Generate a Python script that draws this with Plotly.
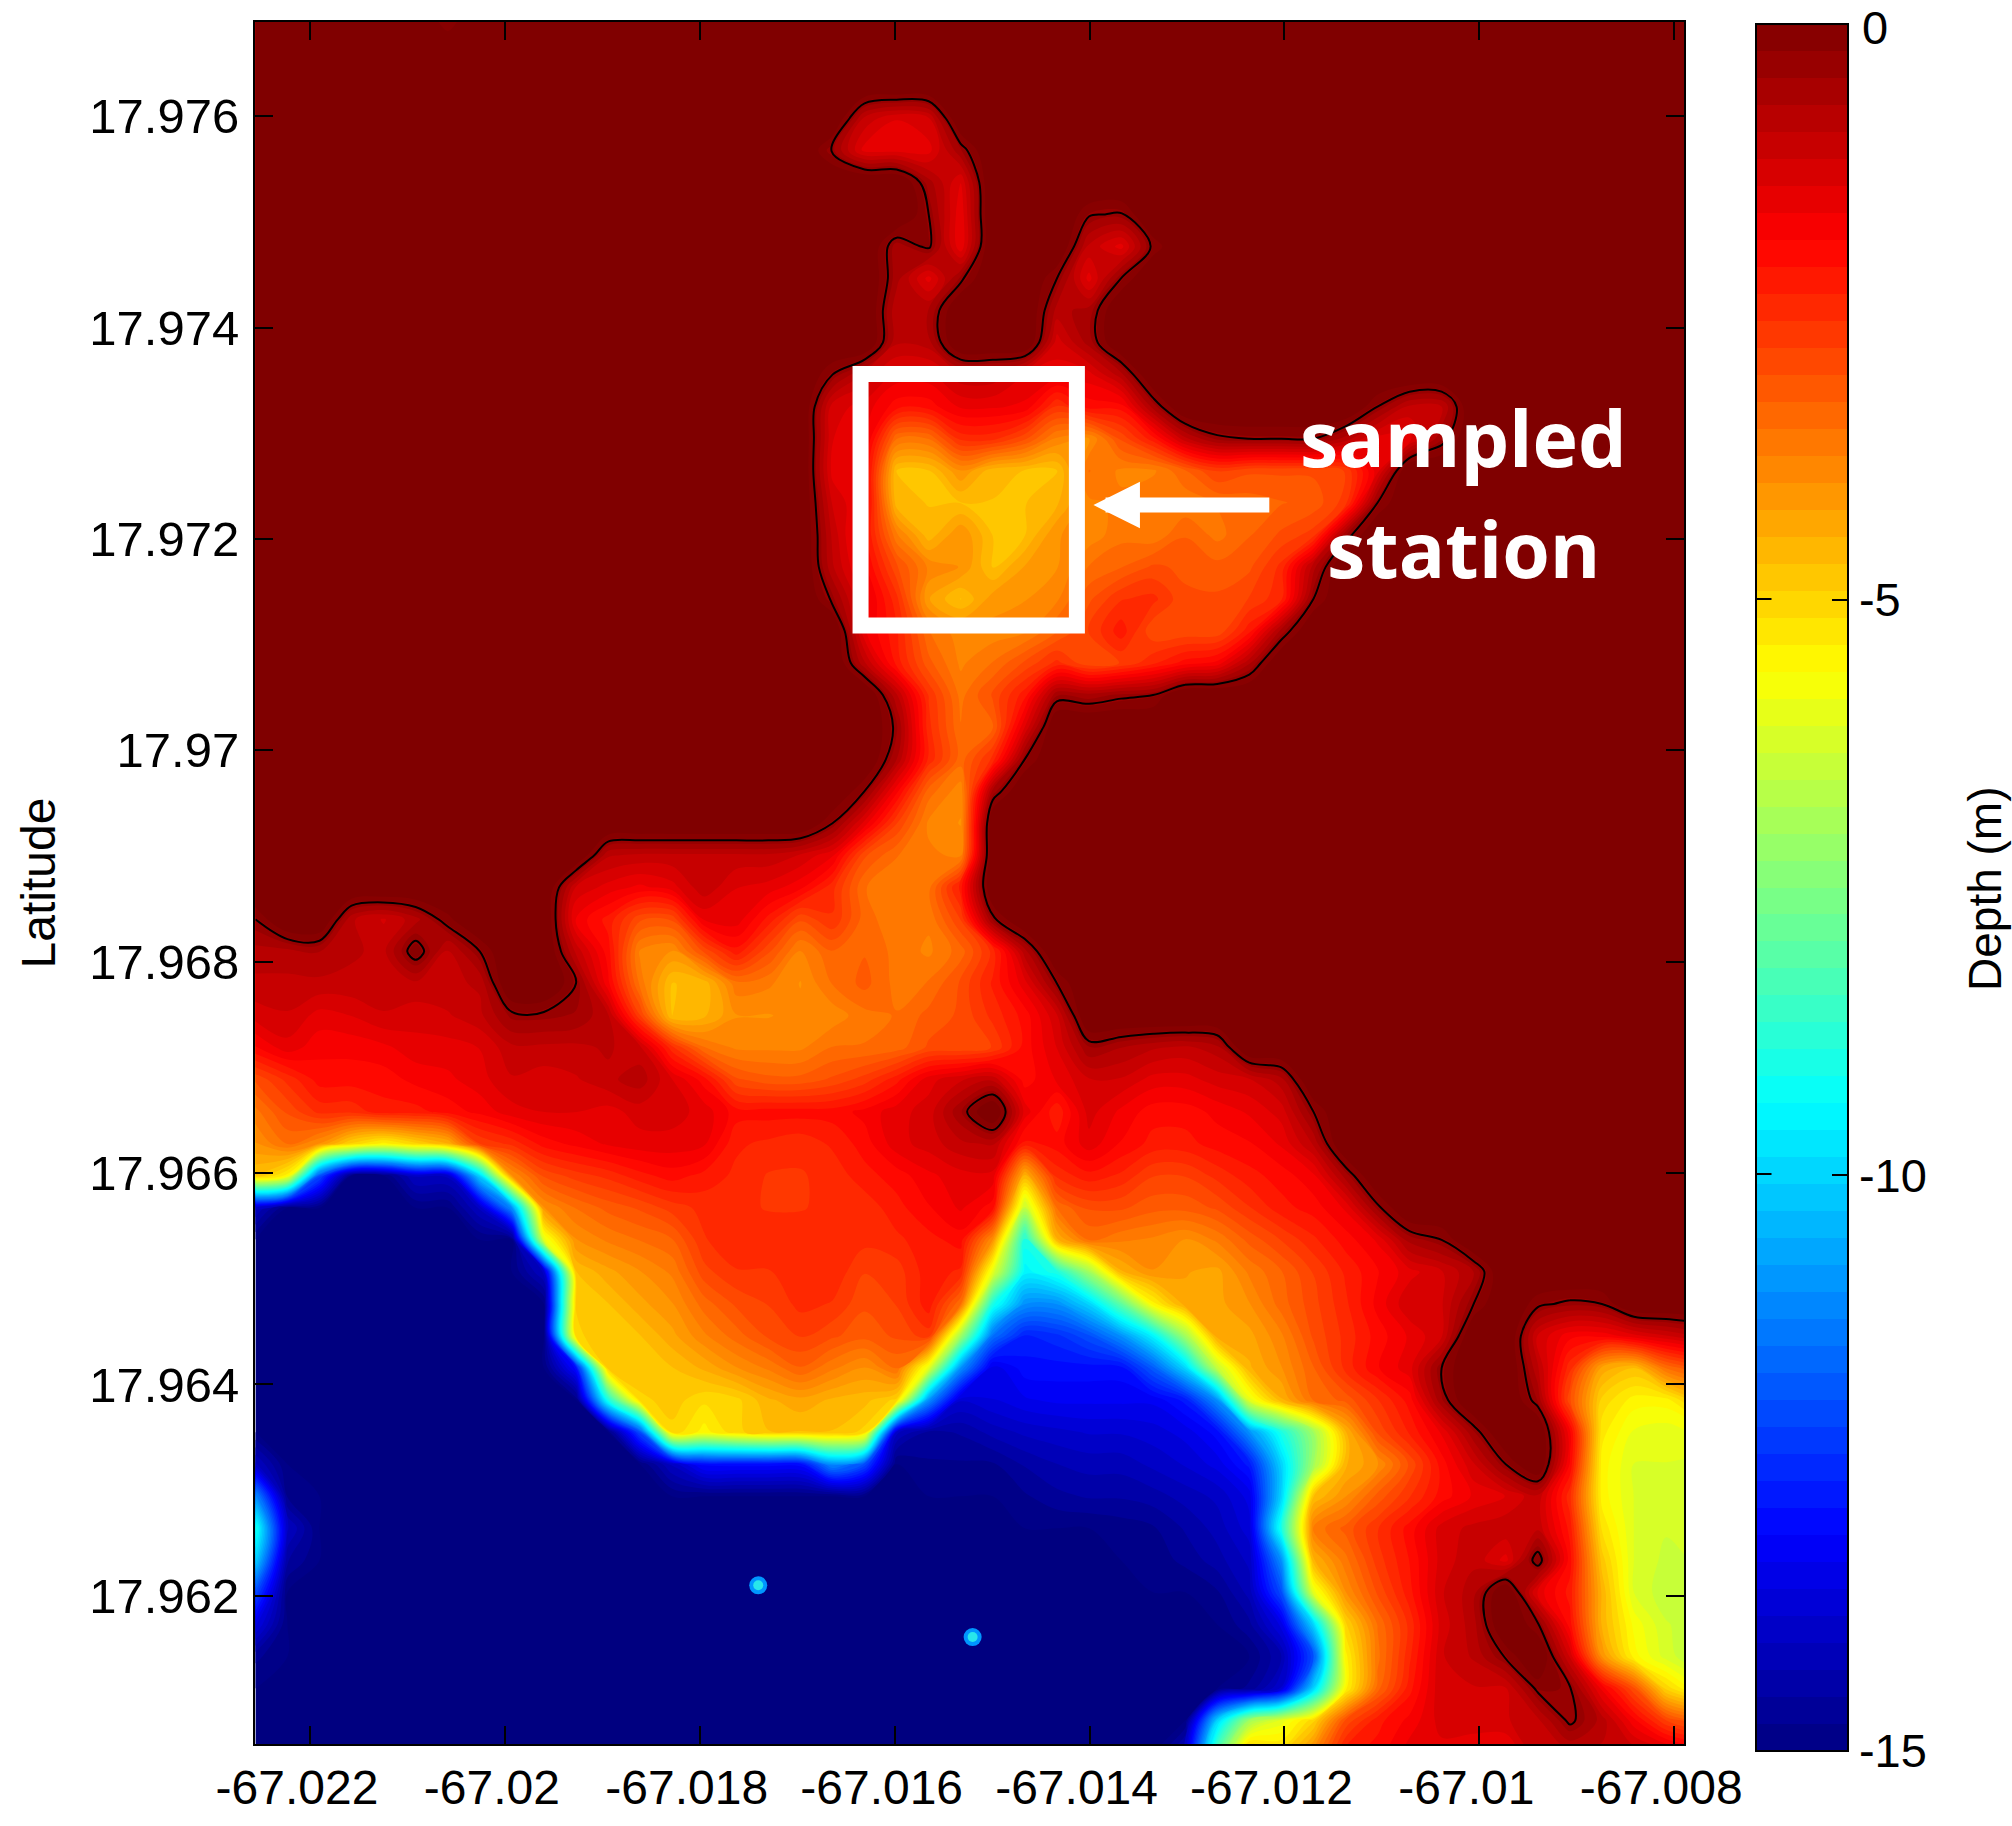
import plotly.graph_objects as go

# Depth (m, positive down); 0 = land. One list per latitude row, north to south.
d00 = [0]*6+[.2]
d01 = [0]
d02 = [0]
d03 = [0]*19+[1,1.4,1.2]
d04 = [0]*18+[.4,1.5,1.5,1.5,.5]
d05 = [0]*21+[.6,1.4]
d06 = [0]*21+[.3,1.6,0,0,0,.25,.35]
d07 = [0]*20+[.6,.2,1.6,0,0,0,1,1.5,.2]
d08 = [0]*20+[.6,1.5,.4,0,0,.3,1.5,.3]
d09 = [0]*20+[.9,.7,0,0,0,.8,.6]
d10 = [0]*20+[.9,.8,0,0,0,1.3,.6]
d11 = [0]*18+[.3,1,1.5,1.5,1,1,1.4,1.5,1.5,.8]
d12 = [0]*18+[1.3,1.5,2,2,1.6,1.6,1.7,2.6,2,2,.6,0,0,0,0,0,0,.3,1,1]
d13 = [0]*18+[1.4,1.5,3.5,3.5,2.5,2.5,3,3.8,4,3,2.2,1,.4,.3,.3,.3,.8,1.5,1.5,.5]
d14 = [0]*18+[1.5,1.7,4.7,4.7,4,4.6,4.7,4.7,3.5,3.8,3.8,3.3,2.8,3,3,3,2.8,1.5]
d15 = [0]*18+[1.2,1.7,4.6,4.7,4.7,4.7,4.7,4.5,3.8,3.7,3.5,3.7,3.5,3.4,3.3,3.2,2.7,.3]
d16 = [0]*18+[1,2,3.7,4.6,4,4.7,4.7,4,3.9,3.6,3.7,3.3,3.6,3.3,3,2.7,.5]
d17 = [0]*18+[.9,1.8,3,3.8,4,4.7,4.2,4,3.5,3.3,3,3.1,3.2,3.1,2.5,.8]
d18 = [0]*18+[.4,1.5,2.5,4.2,4.7,4.1,4,3.8,3.1,2.6,2.5,3,3,2.8,2.4,.3]
d19 = [0]*19+[1.6,2.3,3.5,3.9,3.9,3.8,3.3,2.8,2.2,3,3,3,2.2,.6]
d20 = [0]*19+[.9,2.2,3.2,3.8,3.5,3,2.5,3,2.8,2.4,2,1.8,.75]
d21 = [0]*20+[.9,2.6,3.6,3,2.2,.5,.6,.4,.3]
d22 = [0]*20+[.4,2.5,3.5,3.3,1.4]
d23 = [0]*20+[.7,2.4,3.4,2.5,.3]
d24 = [0]*19+[.3,1.8,3.4,3.9,.6]
d25 = [0]*18+[.3,1.5,2.8,3.8,4]
d26 = [0]*11+[.9,1,1,1,1,1,1.2,1.6,3,3.5,3.7,3.8]
d27 = [0]*10+[1.2,1.5,1.7,1.5,1,1.4,1.5,1.8,2.5,3.5,3.7,3.6,2.2]
d28 = [.3,0,0,.9,1.2,.8,.1,0,0,0,1.7,2.2,3,3,1.6,1.5,2.2,3,2.6,3.4,3.7,3.7,2.8,.4]
d29 = [.8,.8,.7,.9,1,.05,1,.3,0,0,1,2,3.8,4,3,2.2,3,3.8,3.3,3.3,3.6,3.8,3.4,2.5,.8]
d30 = [1,1,1,1,1,1,1,.9,0,0,.3,1.8,3.6,4.7,4.6,3.6,3.7,4,3.5,3.2,3.6,3.5,3,2.3,1.5,.3]
d31 = [1.3,1.2,1.5,1.4,1.2,1.3,1.2,1,.4,.4,.5,.9,2.8,4.7,4.5,4,4,3.9,3.9,3.6,3.5,3.2,3,2.5,2,1.2]
d32 = [1.9,1.5,1.8,1.8,1.7,1.5,1.5,1.4,1,1,1,.9,1.1,2.5,3.5,3.8,3.8,3.8,3.5,3.5,3.4,3,3,2.8,2,1.4,.5,.7,.9,1,.8]
d33 = [3,2.5,2,2,2,1.8,1.7,1.5,1.2,1.3,1.2,1,.8,1.4,2,3,3.2,3.2,3,2.7,2.2,1.5,1.2,1,2,1.6,1.2,1.2,1.5,1.5,1.3,1.2,.8]
d34 = [3.6,3,2.5,2.5,2.2,2.2,2,1.8,1.5,1.4,1.4,1.5,1.3,1.3,1.5,2,2,2,2,1.8,1.5,1.3,.5,0,1.5,2.3,1.3,1.7,2,2,1.8,1.6,1.3,.3]
d35 = [4,3.5,4,5,5.5,5,4.5,2.8,2.5,2,1.8,1.6,1.5,1.5,1.6,2.3,2.4,2.5,2.3,2,1.5,1.3,1,.9,2.2,2,1.5,1.9,2.2,2.2,2,1.9,1.6,.9]
d36 = [4.7,5.5,12,15,15,14,14,10,4,3,2.7,2.5,2.2,2,2.2,2.4,2.6,2.6,2.5,2.2,2,1.7,1.5,1.5,4.5,2.5,2.2,2.4,2.8,2.8,2.5,2.2,2,1.7,.6]
d37 = [14]+[15]*6+[14,11,4,3.5,3.2,3,2.7,2.5,2.5,2.6,2.6,2.5,2.5,2.2,1.9,1.6,2,6.5,3.5,3,3,3.2,3.2,3,2.6,2.2,2,1.6,.4]
d38 = [15]*9+[6,4,3.7,3.5,3.3,2.6,2.4,2.4,2.4,2.4,2.5,2.4,2.2,2,4,9,4.5,3.5,3.7,3.8,4,3.7,3.2,2.8,2.4,2,1.6,.6,.3]
d39 = [15]*9+[14,4.7,4.3,4,3.7,2.9,2.6,2.6,2.4,2.4,2.8,2.7,2.2,2.4,6,9.5,9,7,4.5,4,4.2,4.3,3.7,3.3,2.8,2.3,1.9,1.5,1.2,.7]
d40 = [15]*10+[4.9,4.7,4.3,4,3.4,3,2.8,2.5,2.6,3,2.8,2.2,3.5,9,11,11,10,8,5.5,4.3,4.3,4,3.4,2.9,2.4,1.8,1.2,1.2,.3,0,.2,.4,.3]
d41 = [15]*10+[5,4.7,4.7,4.3,3.8,3.4,3,2.8,3,3.2,3,2.7,7,11.5,12.7,12.5,12,11,9.5,7,4.3,4.3,3.8,3,2.5,2,1.6,1.2,0,0,1.2,1.8,1.8,1.5,1.2,.9]
d42 = [15]*10+[13,4.8,4.7,4.7,4.4,4,3.7,3.3,3.7,4,3.5,6,11,13.5,13,13,13,13,11.8,10,6.5,4.5,4,3.3,2.5,1.9,1.5,.3,0,0,.9,2.5,4.3,4.7,3.5,3]
d43 = [15]*11+[9,5,4.8,5.1,5,4.5,4.3,4.5,4.6,5,11,13.8,13.6,13.4,13.3,13.3,13.3,13.3,12.8,11,6,4.5,3.5,3.2,2.6,2,.5,0,0,.5,3,5,5.5,5.5,4.7]
d44 = [15]*12+[12,5,5.5,5,4.7,4.7,4.7,5,14,14.6,14.5,14.2,14,13.9,13.8,13.8,13.7,13.5,13,11,9,7,4.5,3,2.3,1.6,.5,0,0,1.8,5.3,5.9,6,5.8]
d45 = [14]+[15]*12+[14,13,13,13,13,11,12,15,14.8,14.8,14.8,14.5,14.3,14.2,14.2,14,13.8,13.5,12.8,10,7,4.5,4,3,2,1.2,.3,0,1.9,5.5,6.1,6.1,6.2]
d46 = [11,14.8]+[15]*22+[14.8,14.6,14.5,14.5,14.4,14.2,14,13.5,10,4.7,4,3.2,2.6,2,1.6,1.4,1,2.5,5.5,6.1,6.2,6.3]
d47 = [9,14]+[15]*25+[14.9,14.8,14.5,14.2,13.7,9,3.7,3.2,2.6,2,1.3,1.1,1,1,2.2,5.2,6.1,6.3,6.3]
d48 = [10,14.5]+[15]*26+[14.9,14.7,14.4,14,11,4.5,3.6,2.7,2.1,1.3,1,1.5,.05,2,4.8,6.1,6.4,6.3]
d49 = [12]+[15]*29+[14.8,14.2,12,6,4,3,2.2,1.2,.8,0,1.5,2.2,4.5,6.1,6.5,6.4]
d50 = [13.5]+[15]*30+[14.6,13.5,10,5,3.5,2.5,1.3,.8,0,.25,2,4.5,5.7,6.3,6.5]
d51 = [14.7]+[15]*31+[14.3,12,5.5,3.6,2.4,1.2,.9,.25,0,1.2,4,5.5,6.2,6.6]
d52 = [15]*31+[14.7,13.8,10,5.5,3.4,2.2,1.2,1.2,1.2,.2,.25,1.7,3,5,5.8]
d53 = [15]*30+[10,7,6,5,3,2.2,1.8,1.3,1.2,1.2,1,.2,.8,1.8,2.8,3.3]
d54 = [15]*29+[14,8,4.5,5,3.8,2.2,2,1.5,1.5,1.7,1.7,1,1,1,1,1.2,1.5]

rows = [d00,d01,d02,d03,d04,d05,d06,d07,d08,d09,d10,d11,d12,d13,d14,d15,d16,d17,d18,d19,
        d20,d21,d22,d23,d24,d25,d26,d27,d28,d29,d30,d31,d32,d33,d34,d35,d36,d37,d38,d39,
        d40,d41,d42,d43,d44,d45,d46,d47,d48,d49,d50,d51,d52,d53,d54]

LAND_LEVEL = 0.5
N_LON = 46
lon0, dlon = -67.02256, 0.000329
lat0, dlat = 17.97689, 0.0003032
lons = [lon0 + dlon*j for j in range(N_LON)]
lats = [lat0 - dlat*i for i in range(len(rows))]
z = []
for r in rows:
    full = (r + [0]*N_LON)[:N_LON]
    z.append([-v if v > 0 else LAND_LEVEL for v in full])

lon_ticks = [-67.022,-67.02,-67.018,-67.016,-67.014,-67.012,-67.01,-67.008]
lon_labels = ["-67.022","-67.02","-67.018","-67.016","-67.014","-67.012","-67.01","-67.008"]
lat_ticks = [17.976,17.974,17.972,17.97,17.968,17.966,17.964,17.962]
lat_labels = ["17.976","17.974","17.972","17.97","17.968","17.966","17.964","17.962"]
cb_ticks = [-5,-10,-15]
cb_labels = ["-5","-10","-15"]

jet = [[0,"rgb(0,0,128)"],[.125,"rgb(0,0,255)"],[.375,"rgb(0,255,255)"],
       [.625,"rgb(255,255,0)"],[.875,"rgb(255,0,0)"],[1,"rgb(128,0,0)"]]

spot_lon = [-67.01740, -67.01520]
spot_lat = [17.96210, 17.96161]

box_lon = [-67.01635, -67.01413]
box_lat = [17.97118, 17.97356]
arrow_lon = -67.01396
arrow_lat = 17.97232
arrow_tail_lon = -67.01214

L, R, T, B = 255, 328, 22, 80
PW, PH = 2012-L-R, 1826-T-B
CB_X0, CB_TOP, CB_LEN = 1756, 24, 1727

FONT = "Liberation Sans"
fig = go.Figure()
fig.add_trace(go.Contour(
    x=lons, y=lats, z=z, colorscale=jet, zmin=-15, zmax=0, line=dict(width=0, smoothing=1),
    contours=dict(start=-15, end=0, size=15/64, coloring="fill", showlines=False),
    colorbar=dict(lenmode="pixels", len=CB_LEN, thicknessmode="pixels", thickness=92,
                  x=(CB_X0-L)/PW, xanchor="left", xpad=0, y=1-(CB_TOP-T)/PH, yanchor="top", ypad=0,
                  outlinecolor="black", outlinewidth=2,
                  tickmode="array", tickvals=cb_ticks, ticktext=cb_labels,
                  ticks="inside", ticklen=17, tickcolor="black", tickwidth=2,
                  tickfont=dict(family=FONT, size=47, color="black")),
    hoverinfo="skip"))
fig.add_trace(go.Contour(
    x=lons, y=lats, z=z, showscale=False, line=dict(color="black", width=2, smoothing=1),
    contours=dict(start=-0.3, end=-0.3, size=1, coloring="none"), hoverinfo="skip"))
fig.add_trace(go.Scatter(x=spot_lon, y=spot_lat, mode="markers", showlegend=False,
    marker=dict(size=18, color="rgb(0,150,255)"), hoverinfo="skip"))
fig.add_trace(go.Scatter(x=spot_lon, y=spot_lat, mode="markers", showlegend=False,
    marker=dict(size=10, color="rgb(40,230,235)"), hoverinfo="skip"))

fig.add_shape(type="rect", xref="x", yref="y", x0=box_lon[0], x1=box_lon[1], y0=box_lat[0], y1=box_lat[1],
              line=dict(color="white", width=16), layer="above")
fig.add_annotation(x=arrow_lon, y=arrow_lat, ax=arrow_tail_lon, ay=arrow_lat,
                   xref="x", yref="y", axref="x", ayref="y", text="", showarrow=True,
                   arrowhead=2, arrowsize=.62, arrowwidth=15, arrowcolor="white")
lab = dict(xref="x", yref="y", showarrow=False, font=dict(family="Open Sans", size=77, color="white", weight="bold"))
fig.add_annotation(x=-67.01016, y=17.97296, text="sampled", **lab)
fig.add_annotation(x=-67.01016, y=17.97191, text="station", **lab)
fig.add_annotation(xref="paper", yref="paper", x=(1985-L)/PW, y=1-(890-T)/PH, text="Depth (m)", textangle=-90,
                   showarrow=False, xanchor="center", yanchor="middle",
                   font=dict(family=FONT, size=46, color="black"))
fig.add_annotation(xref="paper", yref="paper", x=(1861-L)/PW, y=1-(28-T)/PH, text="0", showarrow=False,
                   xanchor="left", yanchor="middle", borderpad=0, font=dict(family=FONT, size=47, color="black"))
for v in cb_ticks[:2]:
    py = 1-(CB_TOP + (0-v)/15*CB_LEN - T)/PH
    fig.add_annotation(xref="paper", yref="paper", x=(CB_X0-L)/PW, y=py, ax=17, ay=0, text="", showarrow=True,
                       arrowhead=0, arrowwidth=2, arrowcolor="black", standoff=0)

axis = dict(ticks="inside", ticklen=18, tickwidth=2, tickcolor="black", showline=True, linecolor="black",
            linewidth=2, mirror="ticks", showgrid=False, zeroline=False, tickmode="array")
fig.update_xaxes(range=[-67.022564,-67.0079], tickvals=lon_ticks, ticktext=lon_labels, ticklabelshift=-13,
                 tickfont=dict(family=FONT, size=48, color="black"), **axis)
fig.update_yaxes(range=[17.9605983,17.976891], tickvals=lat_ticks, ticktext=lat_labels, ticklabelstandoff=4,
                 tickfont=dict(family=FONT, size=49, color="black"),
                 title=dict(text="Latitude", font=dict(family=FONT, size=48, color="black"), standoff=19), **axis)
fig.update_layout(width=2012, height=1826, margin=dict(l=L, r=R, t=T, b=B),
                  plot_bgcolor="white", paper_bgcolor="white", showlegend=False)
fig.write_html("out.html", config={"displayModeBar": False},
               post_script="document.body.style.margin='0';document.body.style.overflow='hidden';")
